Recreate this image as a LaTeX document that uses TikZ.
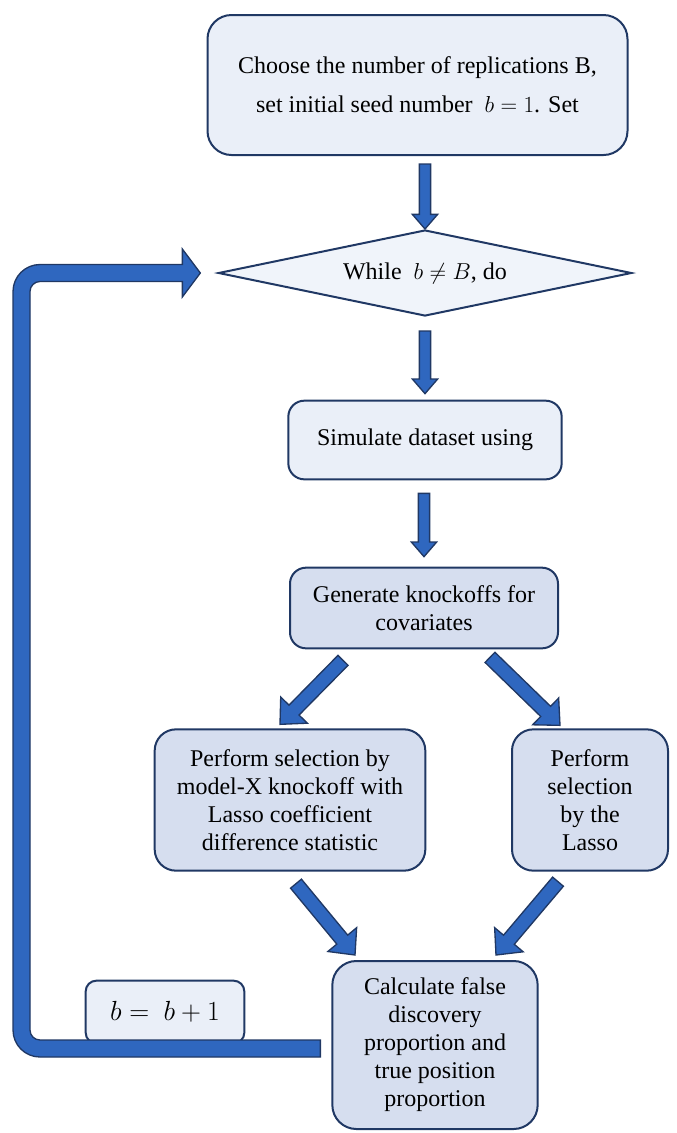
\documentclass[tikz,border=0pt]{standalone}
\usepackage{fontspec}
\setmainfont{Liberation Serif}
\usepackage{tikz}
\usetikzlibrary{calc}
\usetikzlibrary{shapes.geometric}

\definecolor{navy}{HTML}{203864}
\definecolor{lightfill}{HTML}{EAEFF8}
\definecolor{midfill}{HTML}{D6DEEF}
\definecolor{arrowblue}{HTML}{2F67BF}

\tikzset{
    box/.style={draw=navy, line width=1.5pt, rounded corners=12pt, align=center,
        inner sep=2pt, font=\fontsize{18}{21}\selectfont},
    lightbox/.style={box, fill=lightfill},
    midbox/.style={box, fill=midfill},
    barrow/.style={draw=navy, fill=arrowblue, line width=1pt, line join=miter}
}

% #1 shaft half width, #2 head half width, #3 head length, #4 from, #5 to
\newcommand{\blockarrow}[5]{%
    \path (#4) coordinate (ba-s) (#5) coordinate (ba-e);
    \path ($(ba-e)!#3!(ba-s)$) coordinate (ba-h);
    \draw[barrow] ($(ba-s)!#1!90:(ba-e)$) -- ($(ba-h)!#1!90:(ba-e)$)
        -- ($(ba-h)!#2!90:(ba-e)$) -- (ba-e) -- ($(ba-h)!#2!-90:(ba-e)$)
        -- ($(ba-h)!#1!-90:(ba-e)$) -- ($(ba-s)!#1!-90:(ba-e)$) -- cycle;
}

\begin{document}
\begin{tikzpicture}[x=0.75pt, y=0.75pt]
    \useasboundingbox (0,0) rectangle (676,-1133);

    \node[lightbox, rounded corners=18pt, minimum width=315pt, minimum height=105pt] (start) at (417.5,-85)
        {Choose the number of replications B,\\[8.5pt] set initial seed number ~$b=1$. Set};
    \node[diamond, draw=navy, line width=1.5pt, fill=lightfill!70!white, aspect=4.8, inner sep=0pt,
        minimum width=310pt, minimum height=64.5pt, font=\fontsize{18}{21}\selectfont] (while) at (425,-273)
        {While ~$b \neq B$, do};
    \node[lightbox, minimum width=205pt, minimum height=59pt] (sim) at (425,-440) {Simulate dataset using};
    \node[midbox, minimum width=201pt, minimum height=60.5pt] (gen) at (424,-608)
        {Generate knockoffs for\\covariates};
    \node[midbox, rounded corners=16pt, minimum width=203pt, minimum height=106pt] (knock) at (290,-800)
        {Perform selection by\\model-X knockoff with\\Lasso coefficient\\difference statistic};
    \node[midbox, rounded corners=16pt, minimum width=117pt, minimum height=106pt] (lasso) at (590,-800)
        {Perform\\selection\\by the\\Lasso};
    \node[midbox, rounded corners=18pt, minimum width=154pt, minimum height=126pt] (calc) at (435,-1045)
        {Calculate false\\discovery\\proportion and\\true position\\proportion};
    \node[lightbox, rounded corners=8pt, minimum width=119pt, minimum height=47pt,
        font=\fontsize{20}{24}\selectfont] (bupd) at (165,-1012)
        {$b =\ b+1$};

    % straight arrows
    \blockarrow{4.2pt}{9.5pt}{11pt}{$(while.north |- start.south)+(0,-8)$}{while.north}
    \blockarrow{4.2pt}{9.5pt}{11pt}{$(while.south)+(0,-14)$}{$(sim.north)+(0,6)$}
    \blockarrow{4.2pt}{9.5pt}{11pt}{$(gen.north |- sim.south)+(0,-13)$}{$(gen.north)+(0,10)$}
    % diagonal arrows
    \blockarrow{5.3pt}{14pt}{15pt}{$(gen.south)+(-81,-11)$}{$(knock.north)+(-10,4)$}
    \blockarrow{5.3pt}{14pt}{15pt}{$(gen.south)+(66,-8)$}{$(lasso.north)+(-30,3)$}
    \blockarrow{5.3pt}{14pt}{15pt}{$(knock.south)+(6,-12)$}{$(calc.north)+(-80,5)$}
    \blockarrow{5.3pt}{14pt}{15pt}{$(lasso.south)+(-32,-10)$}{$(calc.north)+(61,5)$}

    % loop back
    \coordinate (loopx) at (21.5,0);
    \coordinate (lp-s) at ($(calc.west)+(-11,-3.5)$);
    \coordinate (lp-e) at ($(while.west)+(-17,0)$);
    \draw[barrow] ($(lp-s)+(0,8.5)$) -- ($(loopx |- lp-s)+(18.5,8.5)$)
        arc[start angle=270, end angle=180, radius=10]
        -- ($(loopx |- lp-e)+(8.5,-18.5)$) arc[start angle=180, end angle=90, radius=10]
        -- ($(lp-e)+(-18,-8.5)$) -- ($(lp-e)+(-18,-24)$) -- (lp-e)
        -- ($(lp-e)+(-18,24)$) -- ($(lp-e)+(-18,8.5)$)
        -- ($(loopx |- lp-e)+(18.5,8.5)$) arc[start angle=90, end angle=180, radius=27]
        -- ($(loopx |- lp-s)+(-8.5,18.5)$) arc[start angle=180, end angle=270, radius=27]
        -- ($(lp-s)+(0,-8.5)$) -- cycle;
\end{tikzpicture}
\end{document}
